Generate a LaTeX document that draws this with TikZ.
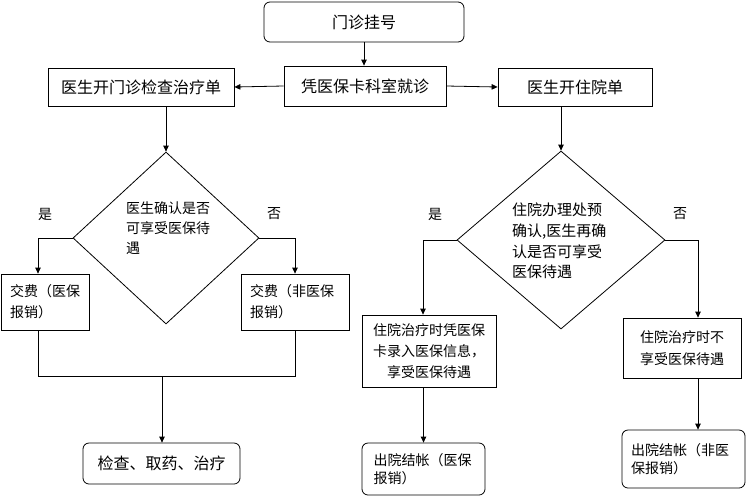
\documentclass[tikz,border=0pt]{standalone}
\usepackage{fontspec}
\setmainfont{Noto Sans CJK SC}
\usetikzlibrary{arrows.meta,shapes.geometric,calc}
\begin{document}
\begin{tikzpicture}[x=1pt,y=-1pt,
 box/.style={draw, line width=0.8pt, inner sep=0pt, font=\fontsize{16}{20}\selectfont},
 rbox/.style={box, rounded corners=6pt},
 dia/.style={draw, diamond, inner sep=0pt, line width=0.8pt},
 dtxt/.style={inner sep=0pt, align=left, anchor=west},
 lbl/.style={inner sep=0pt, font=\fontsize{14}{16}\selectfont},
 arr/.style={draw, line width=0.8pt, -{Triangle[length=6pt,width=5.5pt]}},
 ln/.style={draw, line width=0.8pt}]
\useasboundingbox (0,0) rectangle (746,496);
\fill[white] (0,0) rectangle (746,496);

% top row
\node[rbox, minimum width=200pt, minimum height=40pt] (reg) at (364,22) {门诊挂号};
\node[box, minimum width=162pt, minimum height=40pt] (visit) at (365,86) {凭医保卡科室就诊};
\node[box, minimum width=186pt, minimum height=38pt] (outp) at (141,87) {医生开门诊检查治疗单};
\node[box, minimum width=154pt, minimum height=38pt] (inp) at (575,87) {医生开住院单};

% diamonds
\node[dia, minimum width=186pt, minimum height=172pt] (d1) at (166,238) {};
\node[dtxt, font=\fontsize{14}{20}\selectfont] (d1t) at (126,228) {医生确认是否\\可享受医保待\\遇};
\node[dia, minimum width=208pt, minimum height=178pt] (d2) at (561,240) {};
\node[dtxt, font=\fontsize{15}{20.7}\selectfont] (d2t) at (512,241) {住院办理处预\\确认,医生再确\\认是否可享受\\医保待遇};

% labels
\node[lbl] (y1) at (45,214) {是};
\node[lbl] (n1) at (274,214) {否};
\node[lbl] (y2) at (435,214) {是};
\node[lbl] (n2) at (680,214) {否};

% outpatient branch boxes
\node[box, minimum width=88pt, minimum height=56pt, text width=70pt, align=left, font=\fontsize{14}{21}\selectfont] (f1) at (45,302) {交费（医保\\报销）};
\node[box, minimum width=108pt, minimum height=56pt, text width=90pt, align=left, font=\fontsize{14}{21}\selectfont] (f2) at (295,302) {交费（非医保\\报销）};
\node[rbox, minimum width=157pt, minimum height=41pt] (exam) at (161.5,463.5) {检查、取药、治疗};

% inpatient branch boxes
\node[box, minimum width=134pt, minimum height=72pt, align=center, font=\fontsize{14}{21}\selectfont] (h1) at (429,351) {住院治疗时凭医保\\卡录入医保信息，\\享受医保待遇};
\node[box, minimum width=118pt, minimum height=60pt, align=center, font=\fontsize{14}{22}\selectfont] (h2) at (682,348) {住院治疗时不\\享受医保待遇};
\node[rbox, minimum width=123pt, minimum height=52pt, text width=100pt, align=left, font=\fontsize{14}{18}\selectfont] (o1) at (423.5,469) {出院结帐（医保\\报销）};
\node[rbox, minimum width=123pt, minimum height=58pt, text width=105pt, align=left, font=\fontsize{14}{18}\selectfont] (o2) at (683.5,459) {出院结帐（非医\\保报销）};

% connectors top
\draw[arr] (reg.south) -- (reg.south |- visit.north);
\draw[arr] (visit.west) -- (outp.east);
\draw[arr] (visit.east) -- (inp.west);
\draw[arr] (d1.north |- outp.south) -- (d1.north);
\draw[arr] (d2.north |- inp.south) -- (d2.north);

% outpatient decisions
\coordinate (f1in) at ($(f1.north)+(-7,0)$);
\draw[arr] (d1.west) -| (f1in);
\draw[arr] (d1.east) -| (f2.north);
\coordinate (jl) at (38,376);
\coordinate (jr) at (295,376);
\coordinate (jm) at (162,376);
\draw[ln] ($(f1.south)+(-7,0)$) -- (jl) -- (jr) -- (f2.south);
\draw[arr] (jm) -- (jm |- exam.north);

% inpatient decisions
\coordinate (h1in) at ($(h1.north)+(-6,0)$);
\coordinate (h2in) at ($(h2.north)+(16,0)$);
\draw[arr] (d2.west) -| (h1in);
\draw[arr] (d2.east) -| (h2in);
\draw[arr] (o1.north |- h1.south) -- (o1.north);
\coordinate (h2out) at ($(h2.south)+(16,0)$);
\draw[arr] (h2out) -- (h2out |- o2.north);
\end{tikzpicture}
\end{document}
